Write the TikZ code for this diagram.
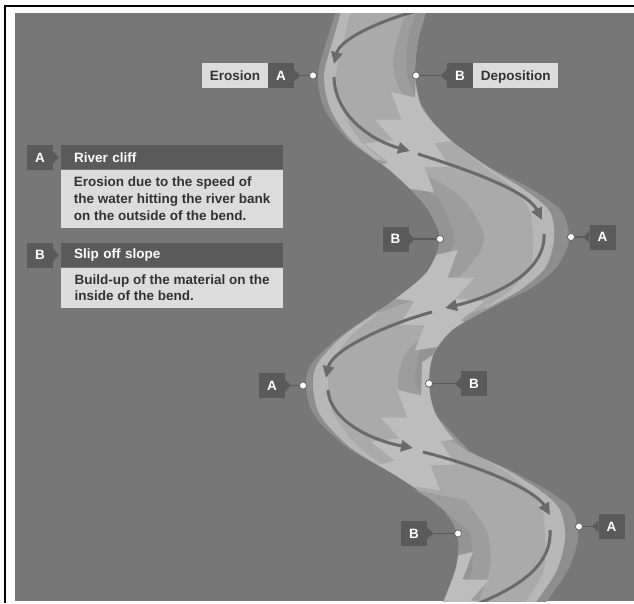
\documentclass[tikz,border=0pt]{standalone}
\usepackage{fontspec}
\setmainfont{Liberation Sans}
\usetikzlibrary{positioning,arrows.meta}

\definecolor{panel}{HTML}{777777}
\definecolor{rim}{HTML}{8E8E8E}
\definecolor{bank}{HTML}{B7B7B7}
\definecolor{water}{HTML}{AAAAAA}
\definecolor{shoal}{HTML}{9D9D9D}
\definecolor{silt}{HTML}{949494}
\definecolor{foam}{HTML}{BDBDBD}
\definecolor{flowc}{HTML}{6A6A6A}
\definecolor{tagdark}{HTML}{5A5A5A}
\definecolor{paper}{HTML}{DCDCDC}
\definecolor{ink}{HTML}{333333}

% little pointers on the letter tags
\newcommand{\tipright}[1]{\fill[tagdark] ([yshift=6pt]#1.east) -- ([xshift=6pt]#1.east) -- ([yshift=-6pt]#1.east) -- cycle;}
\newcommand{\tipleft}[1]{\fill[tagdark] ([yshift=6pt]#1.west) -- ([xshift=-6pt]#1.west) -- ([yshift=-6pt]#1.west) -- cycle;}
% jagged white water at a crossing
\newcommand{\rapids}{\fill[foam] (-110,-20) -- (-60,-14) -- (-68,-34) -- (-40,-12) -- (-44,-42) -- (-20,-16)
  -- (-14,-46) -- (2,-22) -- (12,-48) -- (24,-24) -- (44,-46) -- (50,-22) -- (80,-36) -- (110,-20)
  -- (120,30) -- (70,20) -- (66,40) -- (44,18) -- (36,42) -- (18,16) -- (4,40) -- (-8,18)
  -- (-26,38) -- (-34,14) -- (-60,28) -- (-70,6) -- (-120,10) -- cycle;}

\begin{document}
\begin{tikzpicture}[x=1pt, y=-1pt,
    % node attributes
    tag/.style = {fill=tagdark, text=white, font=\bfseries\fontsize{13.5}{15}\selectfont,
        minimum width=26pt, minimum height=25pt, inner sep=0pt,
        text height=9.7pt, text depth=0pt},
    word/.style = {fill=paper, text=ink, font=\bfseries\fontsize{13.5}{15}\selectfont,
        minimum height=25pt, inner xsep=7.5pt, inner ysep=0pt,
        text height=9.7pt, text depth=0pt},
    spot/.style = {circle, fill=white, draw=tagdark, line width=0.6pt,
        inner sep=0pt, minimum size=7pt},
    lead/.style = {draw=tagdark, line width=1.2pt},
    flow/.style = {draw=flowc, line width=3pt, -{Triangle[length=12pt,width=11pt]}},
    head/.style = {fill=tagdark, text=white, font=\bfseries\fontsize{13.5}{15}\selectfont,
        text width=196pt, inner xsep=13pt, minimum height=24pt, align=left, anchor=north west},
    note/.style = {fill=paper, text=ink, font=\bfseries\fontsize{13.5}{16.7}\selectfont,
        minimum width=222pt, inner xsep=0pt, align=left, anchor=north west}]
    \useasboundingbox (0,0) rectangle (634,603);
    % frame and panel
    \fill[white] (0,0) rectangle (634,603);
    \fill[panel] (15,13) rectangle (634,601);
    \draw[line width=2.3pt] (5.2,603) -- (5.2,6.2) -- (634,6.2);

    % the river
    \begin{scope}
    \clip (15,13) rectangle (634,601);
    \fill[rim] plot[smooth] coordinates {(338,5) (327,40) (318,75) (324,108) (348,140) (392,172) (425,205)
        (440,238) (427,272) (390,303) (342,335) (312,363) (306,385) (314,415) (348,448) (400,478)
        (442,508) (458,535) (456,568) (440,610)}
      -- plot[smooth] coordinates {(540,610) (567,572) (578,538) (572,510) (550,492) (510,470) (462,447)
        (436,415) (429,385) (433,355) (452,330) (490,308) (528,290) (556,268) (569,240) (562,212)
        (533,190) (488,166) (448,138) (422,108) (415,75) (418,40) (428,5)} -- cycle;
    \fill[bank, save path=\riverbed] plot[smooth] coordinates {(343,5) (333,40) (324,75) (330,108) (351,140)
        (392,172) (425,205) (440,238) (427,272) (390,303) (344,335) (318,363) (313,385) (320,415)
        (351,448) (400,478) (442,508) (458,535) (456,568) (440,610)}
      -- plot[smooth] coordinates {(530,610) (556,572) (565,538) (560,510) (542,492) (507,470) (462,447)
        (436,415) (429,385) (433,355) (452,330) (488,308) (520,290) (545,268) (554,240) (550,212)
        (525,190) (486,166) (448,138) (422,108) (415,75) (418,40) (428,5)} -- cycle;
    \fill[water] plot[smooth] coordinates {(352,5) (344,40) (336,75) (342,108) (360,140) (395,172)
        (425,205) (440,238) (427,272) (392,303) (352,335) (332,363) (328,385) (334,415) (360,448)
        (402,478) (442,508) (458,535) (456,568) (440,610)}
      -- plot[smooth] coordinates {(520,610) (543,572) (545,538) (542,510) (530,492) (503,470) (462,447)
        (436,415) (429,385) (433,355) (452,330) (484,308) (510,290) (530,268) (533,240) (530,212)
        (515,190) (483,166) (448,138) (422,108) (415,75) (418,40) (428,5)} -- cycle;
    % slip off slopes on the inside of each bend
    \fill[shoal] plot[smooth] coordinates {(428,5) (418,40) (415,75) (422,108) (440,130)}
      -- plot[smooth] coordinates {(420,112) (400,90) (393,62) (400,30) (410,5)} -- cycle;
    \fill[shoal] plot[smooth] coordinates {(372,158) (392,172) (425,205) (440,238) (427,272) (390,303) (368,316)}
      -- plot[smooth] coordinates {(400,305) (455,280) (484,240) (462,198) (420,172)} -- cycle;
    \fill[shoal] plot[smooth] coordinates {(500,303) (452,330) (433,355) (429,385) (436,415) (462,447) (485,460)}
      -- plot[smooth] coordinates {(460,446) (415,418) (398,385) (408,350) (445,322)} -- cycle;
    \fill[shoal] plot[smooth] coordinates {(415,490) (442,508) (458,535) (456,568) (440,610)}
      -- plot[smooth] coordinates {(475,610) (490,568) (487,532) (465,500)} -- cycle;
    % darker silt right against the inner banks
    \fill[silt] plot[smooth] coordinates {(428,5) (418,40) (415,75) (422,108) (435,125)}
      -- plot[smooth] coordinates {(418,100) (407,75) (408,40) (418,5)} -- cycle;
    \fill[silt] plot[smooth] coordinates {(385,166) (392,172) (425,205) (440,238) (427,272) (395,300)}
      -- plot[smooth] coordinates {(432,280) (454,240) (438,198)} -- cycle;
    \fill[silt] plot[smooth] coordinates {(480,312) (452,330) (433,355) (429,385) (436,415) (462,447) (470,452)}
      -- plot[smooth] coordinates {(440,420) (416,385) (420,350)} -- cycle;
    \fill[silt] plot[smooth] coordinates {(425,495) (442,508) (458,535) (456,568) (440,610)}
      -- plot[smooth] coordinates {(458,610) (472,568) (470,532)} -- cycle;
    % white water where the flow crosses over
    \begin{scope}
    \clip[use path=\riverbed];
    \foreach \cx/\cy/\f in {412/152/1, 437/310/-1, 418/450/1, 452/612/-1} {
        \begin{scope}[shift={(\cx,\cy)}, xscale=\f, rotate=63]
        \rapids
        \end{scope}
    }
    \end{scope}
    % line of fastest flow
    \draw[flow] (420,10) .. controls (375,22) and (340,40) .. (334,64);
    \draw[flow] (334,77) .. controls (335,115) and (370,140) .. (410,151);
    \draw[flow] (418,154) .. controls (475,172) and (528,192) .. (542,220);
    \draw[flow] (544,234) .. controls (546,270) and (500,295) .. (445,308);
    \draw[flow] (432,312) .. controls (385,325) and (332,350) .. (326,378);
    \draw[flow] (328,390) .. controls (330,420) and (370,440) .. (413,448);
    \draw[flow] (423,452) .. controls (480,466) and (535,490) .. (550,515);
    \draw[draw=flowc, line width=3pt] (550,530) .. controls (552,565) and (520,590) .. (455,612);
    \end{scope}

    % labels on the banks
    \node[tag] (tA1) at (281,75.5) {A};
    \node[word, left=0pt of tA1] (wA1) {Erosion};
    \node[spot] (dA1) at (313,75.5) {};
    \node[tag] (tB1) at (460,75.5) {B};
    \node[word, right=0pt of tB1] (wB1) {Deposition};
    \node[spot] (dB1) at (416,75.5) {};
    \node[tag] (tB2) at (395.5,239) {B};
    \node[spot] (dB2) at (440,239) {};
    \node[tag] (tA2) at (602.5,237) {A};
    \node[spot] (dA2) at (571,237) {};
    \node[tag] (tA3) at (272,385.5) {A};
    \node[spot] (dA3) at (303,385.5) {};
    \node[tag] (tB3) at (474,383.5) {B};
    \node[spot] (dB3) at (429,383.5) {};
    \node[tag] (tB4) at (414,533.5) {B};
    \node[spot] (dB4) at (458,533.5) {};
    \node[tag] (tA4) at (611.5,526.5) {A};
    \node[spot] (dA4) at (579,526.5) {};
    \foreach \t in {tA1,tB2,tA3,tB4} {\tipright{\t}}
    \foreach \t in {tB1,tA2,tB3,tA4} {\tipleft{\t}}
    \draw[lead] (tA1.east) -- (dA1);
    \draw[lead] (tB1.west) -- (dB1);
    \draw[lead] (tB2.east) -- (dB2);
    \draw[lead] (tA2.west) -- (dA2);
    \draw[lead] (tA3.east) -- (dA3);
    \draw[lead] (tB3.west) -- (dB3);
    \draw[lead] (tB4.east) -- (dB4);
    \draw[lead] (tA4.west) -- (dA4);
    \foreach \d in {dA1,dB1,dB2,dA2,dA3,dB3,dB4,dA4} {\node[spot] at (\d) {};}

    % key
    \node[tag] (kA) at (40,157.5) {A};
    \node[head] (hA) at (61,145) {River cliff};
    \node[note, minimum height=58pt, below=0pt of hA.south west, anchor=north west] (nA)
        {Erosion due to the speed of\\the water hitting the river bank\\on the outside of the bend.};
    \node[tag] (kB) at (40,255) {B};
    \node[head] (hB) at (61,243) {Slip off slope};
    \node[note, minimum height=40pt, below=0pt of hB.south west, anchor=north west] (nB)
        {Build-up of the material on the\\inside of the bend.};
    \tipright{kA}
    \tipright{kB}
\end{tikzpicture}
\end{document}
